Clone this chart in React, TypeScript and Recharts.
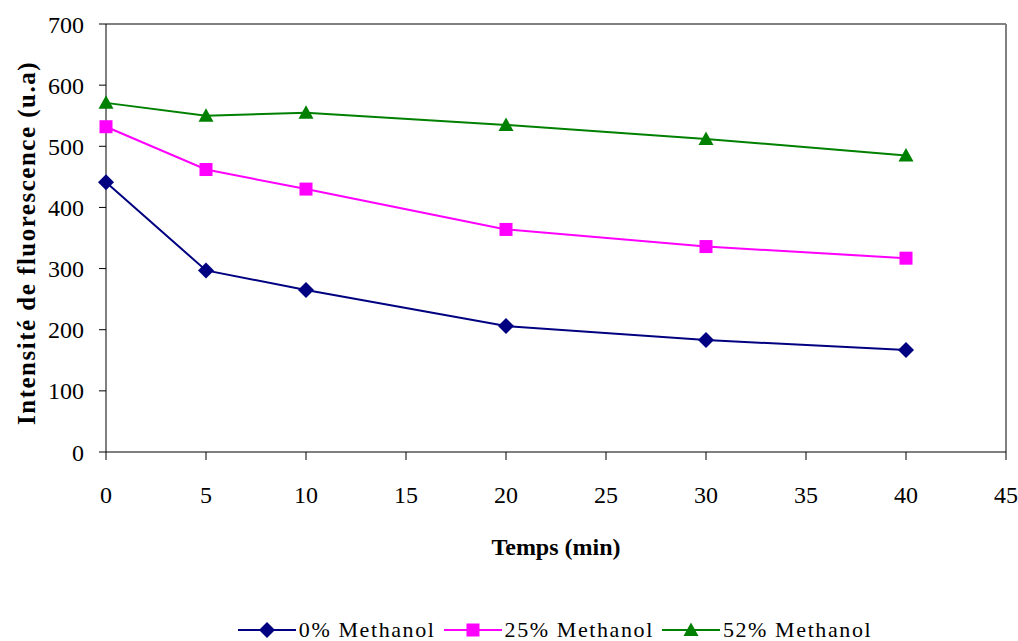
import { LineChart, Line, XAxis, YAxis, Legend, ReferenceLine } from "recharts"

const temps = [0, 5, 10, 20, 30, 40]
const methanol0 = [441, 297, 265, 206, 183, 167]
const methanol25 = [532, 462, 430, 364, 336, 317]
const methanol52 = [571, 550, 555, 535, 512, 485]
const xTicks = [0, 5, 10, 15, 20, 25, 30, 35, 40, 45]
const yTicks = [0, 100, 200, 300, 400, 500, 600, 700]

const series = [
    { key: "m0", name: "0% Methanol", color: "#000080", shape: "diamond" },
    { key: "m25", name: "25% Methanol", color: "#FF00FF", shape: "square" },
    { key: "m52", name: "52% Methanol", color: "#008000", shape: "triangle" },
]

const data = temps.map((t, i) => ({
    t,
    m0: methanol0[i],
    m25: methanol25[i],
    m52: methanol52[i],
}))

const font = "'Times New Roman', 'Liberation Serif', 'DejaVu Serif', Times, serif"

function Marker({ cx, cy, shape, color }: { cx: number; cy: number; shape: string; color: string }) {
    if (shape === "diamond") {
        const r = 8
        return <path d={`M${cx},${cy - r}L${cx + r},${cy}L${cx},${cy + r}L${cx - r},${cy}Z`} fill={color} />
    }
    if (shape === "square") {
        const r = 6.5
        return <rect x={cx - r} y={cy - r} width={r * 2} height={r * 2} fill={color} />
    }
    const r = 7.5
    return <path d={`M${cx},${cy - r}L${cx + r},${cy + r * 0.8}L${cx - r},${cy + r * 0.8}Z`} fill={color} />
}

function makeDot(shape: string, color: string) {
    return (props: any) => {
        const { cx, cy, index } = props
        if (cx == null || cy == null) return <g key={index} />
        return <Marker key={index} cx={cx} cy={cy} shape={shape} color={color} />
    }
}

function LegendContent() {
    return (
        <div style={{ display: "flex", justifyContent: "center", alignItems: "center", fontFamily: font, fontSize: 22, paddingLeft: 112, marginTop: 50 }}>
            {series.map((s) => (
                <div key={s.key} style={{ display: "flex", alignItems: "center", marginRight: 8 }}>
                    <svg width={58} height={20}>
                        <line x1={0} y1={10} x2={58} y2={10} stroke={s.color} strokeWidth={2} />
                        <Marker cx={29} cy={10} shape={s.shape} color={s.color} />
                    </svg>
                    <span style={{ marginLeft: 3, letterSpacing: 1.6 }}>{s.name}</span>
                </div>
            ))}
        </div>
    )
}

export default function App() {
    return (
        <div style={{ position: "absolute", left: 0, top: 0, background: "#fff", fontFamily: font }}>
            <LineChart width={1018} height={641} data={data} margin={{ top: 24, right: 12, left: 0, bottom: 0 }}>
                <XAxis
                    dataKey="t"
                    type="number"
                    domain={[0, 45]}
                    ticks={xTicks}
                    height={115}
                    stroke="#000"
                    tickSize={8}
                    tickMargin={26}
                    tick={{ fill: "#000", fontSize: 24, fontFamily: font }}
                    label={{ value: "Temps (min)", position: "insideBottom", offset: 12, fill: "#000", fontSize: 24, fontWeight: "bold", fontFamily: font }}
                />
                <YAxis
                    type="number"
                    domain={[0, 700]}
                    ticks={yTicks}
                    width={106}
                    stroke="#000"
                    tickSize={7}
                    tickMargin={15}
                    tick={{ fill: "#000", fontSize: 24, fontFamily: font }}
                    label={{ value: "Intensité de fluorescence (u.a)", angle: -90, position: "insideLeft", offset: 26, dy: 187, fill: "#000", fontSize: 25, fontWeight: "bold", fontFamily: font, style: { textAnchor: "start", letterSpacing: 1.5 } }}
                />
                <ReferenceLine y={700} stroke="#808080" strokeWidth={2} />
                <ReferenceLine x={45} stroke="#808080" strokeWidth={2} />
                {series.map((s) => (
                    <Line
                        key={s.key}
                        dataKey={s.key}
                        name={s.name}
                        stroke={s.color}
                        strokeWidth={2}
                        dot={makeDot(s.shape, s.color)}
                        activeDot={false}
                        isAnimationActive={false}
                    />
                ))}
                <Legend verticalAlign="bottom" height={74} content={<LegendContent />} />
            </LineChart>
        </div>
    )
}
